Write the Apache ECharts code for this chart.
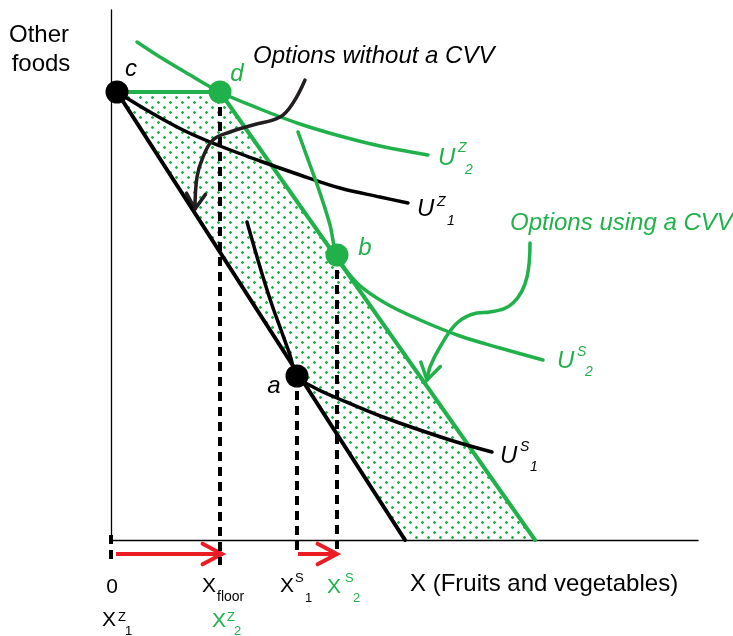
<!DOCTYPE html>
<html><head><meta charset="utf-8">
<script src="https://cdn.jsdelivr.net/npm/echarts@6/dist/echarts.min.js"></script>
<style>html,body{margin:0;padding:0;background:#fff}#c{width:733px;height:636px}</style>
</head><body><div id="c"></div>
<script>
// ---------- data (conceptual units) ----------
const pointC = [6, 448];
const pointD = [109, 448];
const pointB = [226, 285];
const pointA = [186, 164];
const budgetBaseEnd = [294, 0];
const budgetCVVEnd = [424, 0];
const budgetBase = [pointC, budgetBaseEnd];
const budgetCVV = [pointC, pointD, budgetCVVEnd];
const optionsArea = [pointC, pointD, budgetCVVEnd, budgetBaseEnd];
const curveUZ2 = [[26,498],[49,483],[74,468],[109,448],[149,431],[189,416],[229,404],[269,394],[317,385]];
const curveUZ1 = [[6,448],[39,428],[74,409],[109,394],[149,379],[189,365],[229,352],[269,343],[297,337]];
const curveUS2 = [[187,408],[199,375],[209,347],[219,315],[226,285],[246,257],[274,237],[309,220],[349,204],[389,192],[432,180]];
const curveUS1 = [[136,318],[144,290],[152,263],[161,235],[170,210],[179,185],[186,164],[204,152],[226,142],[272,123],[339,100],[381,88]];
const arrowNoCVV = [[194,460],[182,437],[169,423],[142,415],[119,408],[102,400],[92,383],[86,363],[84,331]];
const arrowCVV = [[419,297],[416,263],[402,237],[379,228],[366,227],[346,217],[329,193],[319,173],[316,160]];
const xTicks = [0, 109, 186, 226];           // 0, X_floor, X^S_1, X^S_2
const dropZero = [[0,5],[0,-25]];
const dropD = [pointD,[109,-25]];
const dropA = [pointA,[186,-15]];
const dropB = [pointB,[226,-15]];
const shiftZ = [[5,-14],[111,-14]];
const shiftS = [[187,-14],[226,-14]];

// ---------- styles ----------
const GREEN = '#21b14b', BLACK = '#000000', RED = '#ec1c24', DARK = '#231f20';
const FF = '"Liberation Sans", Arial, Helvetica, sans-serif';

const tile = document.createElement('canvas');
tile.width = 12; tile.height = 10;
const tctx = tile.getContext('2d');
function dot(x, y){
  tctx.globalAlpha = 0.35; tctx.fillStyle = GREEN; tctx.fillRect(x, y, 3, 3);
  tctx.globalAlpha = 1; tctx.fillRect(x, y+1, 3, 1); tctx.fillRect(x+1, y, 1, 3);
}
dot(1,1); dot(7,6);

const chart = echarts.init(document.getElementById('c'), null, {renderer:'canvas'});

function lineS(data, color, width, extra){
  return Object.assign({type:'line', data, symbol:'none', clip:false, silent:true, animation:false,
    lineStyle:{color, width, cap:'round', join:'round'}}, extra||{});
}
function dashS(data){
  return {type:'line', data, symbol:'none', clip:false, silent:true, animation:false,
    lineStyle:{color:BLACK, width:4, type:[9,6], cap:'butt'}};
}
const heads = [
  {tip: arrowNoCVV[arrowNoCVV.length-1], from: arrowNoCVV[arrowNoCVV.length-2], color: DARK, len: 18, ang: 32, w: 3.5},
  {tip: arrowCVV[arrowCVV.length-1], from: arrowCVV[arrowCVV.length-2], color: GREEN, len: 19, ang: 32, w: 3.5},
  {tip: shiftZ[1], from: shiftZ[0], color: RED, len: 22, ang: 28, w: 4},
  {tip: shiftS[1], from: shiftS[0], color: RED, len: 22, ang: 28, w: 4}
];

const option = {
  animation: false,
  grid: {left: 111, right: 35, top: 10, bottom: 96},
  xAxis: {type:'value', min:0, max:587, axisLine:{show:true, onZero:false, lineStyle:{color:BLACK, width:1.3}},
    axisTick:{show:false}, axisLabel:{show:false}, splitLine:{show:false}},
  yAxis: {type:'value', min:0, max:530, axisLine:{show:true, onZero:false, lineStyle:{color:BLACK, width:1.3}},
    axisTick:{show:false}, axisLabel:{show:false}, splitLine:{show:false}},
  series: [
    {type:'custom', coordinateSystem:'cartesian2d', clip:false, silent:true, data: optionsArea,
      renderItem: function(params, api){
        if (params.dataIndex !== 0) return null;
        const pts = optionsArea.map(p => api.coord(p));
        return {type:'polygon', shape:{points:pts}, style:{fill:{image:tile, repeat:'repeat'}, stroke:null}};
      }},
    lineS(budgetCVV, GREEN, 4),
    lineS(budgetBase, BLACK, 4),
    dashS(dropZero), dashS(dropD), dashS(dropA), dashS(dropB),
    lineS(curveUZ2, GREEN, 3.5, {smooth:0.35}),
    lineS(curveUZ1, BLACK, 3.5, {smooth:0.35}),
    lineS(curveUS2, GREEN, 3.5, {smooth:0.35}),
    lineS(curveUS1, BLACK, 3.5, {smooth:0.35}),
    lineS(arrowNoCVV, DARK, 3.5, {smooth:0.4}),
    lineS(arrowCVV, GREEN, 3.5, {smooth:0.4}),
    lineS(shiftZ, RED, 4, {lineStyle:{color:RED, width:4, cap:'butt'}}),
    lineS(shiftS, RED, 4, {lineStyle:{color:RED, width:4, cap:'butt'}}),
    {type:'custom', coordinateSystem:'cartesian2d', clip:false, silent:true, data: heads.map(h=>h.tip),
      renderItem: function(params, api){
        const h = heads[params.dataIndex];
        const t = api.coord(h.tip), f = api.coord(h.from);
        const a = Math.atan2(t[1]-f[1], t[0]-f[0]);
        const r = h.ang*Math.PI/180;
        const p1 = [t[0]-h.len*Math.cos(a-r), t[1]-h.len*Math.sin(a-r)];
        const p2 = [t[0]-h.len*Math.cos(a+r), t[1]-h.len*Math.sin(a+r)];
        return {type:'polyline', shape:{points:[p1,t,p2]}, style:{stroke:h.color, lineWidth:h.w, fill:null, lineCap:'round', lineJoin:'miter'}};
      }},
    {type:'scatter', data:[pointC, pointA], symbol:'circle', symbolSize:23, clip:false, silent:true,
      itemStyle:{color:BLACK, opacity:1}, z:5},
    {type:'scatter', data:[pointD, pointB], symbol:'circle', symbolSize:23, clip:false, silent:true,
      itemStyle:{color:GREEN, opacity:1}, z:5}
  ]
};
chart.setOption(option);

// ---------- text ----------
function px(p){ return chart.convertToPixel({gridIndex:0}, p); }
function T(text, left, baseline, size, color, italic, align){
  return {type:'text', z:100, x:left, y: baseline - 0.3465*size, silent:true,
    style:{text, fill: color||BLACK, font: (italic?'italic ':'') + size + 'px ' + FF,
      textAlign: align||'left', textVerticalAlign:'middle'}};
}
// composite label: base letter with superscript and subscript
function sym(base, sup, sub, left, baseline, color, italic, big, small, supDx, supDy, subDx, subDy){
  const out = [T(base, left, baseline, big, color, italic)];
  if (sup) out.push(T(sup, left+supDx, baseline+supDy, small, color, italic));
  if (sub) out.push(T(sub, left+subDx, baseline+subDy, small, color, italic));
  return out;
}
const G = [];
const pc = px(pointC), pd = px(pointD), pb = px(pointB), pa = px(pointA);
G.push(T('c', pc[0]+14, pc[1]-14, 24, BLACK, true, 'center'));
G.push(T('d', pd[0]+17, pd[1]-9, 24, GREEN, true, 'center'));
G.push(T('b', pb[0]+28, pb[1]+2, 24, GREEN, true, 'center'));
G.push(T('a', pa[0]-23, pa[1]+19, 24, BLACK, true, 'center'));
G.push(T('Other', 39, 44, 24, BLACK, false, 'center'));
G.push(T('foods', 41, 73, 24, BLACK, false, 'center'));
G.push(T('Options without a CVV', 253, 65, 24, BLACK, true));
G.push(T('Options using a CVV', 510, 232, 24, GREEN, true));
const eZ2 = px(curveUZ2[curveUZ2.length-1]);
const eZ1 = px(curveUZ1[curveUZ1.length-1]);
const eS2 = px(curveUS2[curveUS2.length-1]);
const eS1 = px(curveUS1[curveUS1.length-1]);
G.push(...sym('U','Z','2', eZ2[0]+10, eZ2[1]+12, GREEN, true, 24, 14, 20, -14, 27, 8));
G.push(...sym('U','Z','1', eZ1[0]+9, eZ1[1]+15, BLACK, true, 24, 14, 20, -11, 30, 8));
G.push(...sym('U','S','2', eS2[0]+14, eS2[1]+10, GREEN, true, 24, 14, 20, -13, 28, 7));
G.push(...sym('U','S','1', eS1[0]+8, eS1[1]+13, BLACK, true, 24, 14, 20, -13, 30, 7));
// axis labels
const axisY = px([0,0])[1];
const t0 = px([xTicks[0],0])[0], t1 = px([xTicks[1],0])[0], t2 = px([xTicks[2],0])[0], t3 = px([xTicks[3],0])[0];
G.push(T('0', t0+1, axisY+54, 21, BLACK, false, 'center'));
G.push(...sym('X','Z','1', t0-9, axisY+87, BLACK, false, 21, 13, 16, -5, 23, 9));
G.push(...sym('X',null,'floor', t1-18, axisY+53, BLACK, false, 21, 14, 0, 0, 15, 9));
G.push(...sym('X','Z','2', t1-8, axisY+88, GREEN, false, 21, 13, 15, -6, 22, 8));
G.push(...sym('X','S','1', t2-17, axisY+53, BLACK, false, 21, 13, 15, -10, 25, 10));
G.push(...sym('X','S','2', t3-10, axisY+54, GREEN, false, 21, 13, 18, -11, 26, 9));
G.push(T('X (Fruits and vegetables)', 410, axisY+53, 24, BLACK, false));
chart.setOption({graphic: G});
</script>
</body></html>
